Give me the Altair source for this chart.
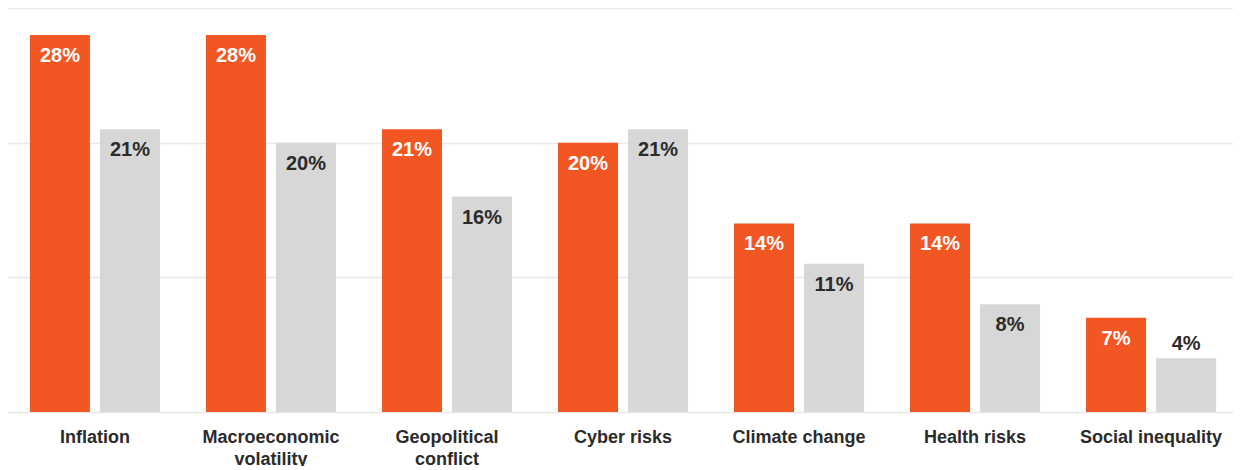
import altair as alt
import pandas as pd

categories = ["Inflation", "Macroeconomic volatility", "Geopolitical conflict",
              "Cyber risks", "Climate change", "Health risks", "Social inequality"]
series_names = ["Current", "Previous"]
current_values = [28, 28, 21, 20, 14, 14, 7]
previous_values = [21, 20, 16, 21, 11, 8, 4]

rows = []
for c, a, b in zip(categories, current_values, previous_values):
    rows.append({"category": c, "series": series_names[0], "value": a})
    rows.append({"category": c, "series": series_names[1], "value": b})
df = pd.DataFrame(rows)

FONT = "Liberation Sans"
ORANGE = "#F15623"
GRAY = "#D6D7D6"
DARK = "#2b2b2b"

x = alt.X(
    "category:N", sort=categories,
    scale=alt.Scale(paddingInner=0.261, paddingOuter=0.13),
    axis=alt.Axis(title=None, labelAngle=0, labelFont=FONT, labelFontWeight="bold",
                  labelFontSize=18, labelColor=DARK, labelLineHeight=22,
                  labelPadding=16, ticks=False, domain=False, labelLimit=300,
                  labelExpr="length(datum.label) > 18 ? split(datum.label, ' ') : datum.label"),
)
xo = alt.XOffset("series:N", sort=series_names,
                 scale=alt.Scale(paddingInner=0.143, paddingOuter=0))
y = alt.Y("value:Q", scale=alt.Scale(domain=[0, 30], nice=False),
          axis=alt.Axis(title=None, labels=False, ticks=False, domain=False,
                        values=[0, 10, 20, 30], grid=True, gridColor="#E8E8E8",
                        gridWidth=1.6))

base = alt.Chart(df).transform_calculate(label="datum.value + '%'")

bars = base.mark_bar().encode(
    x=x, xOffset=xo, y=y,
    color=alt.Color("series:N", sort=series_names,
                    scale=alt.Scale(domain=series_names, range=[ORANGE, GRAY]),
                    legend=None),
)

txt_color = alt.condition(f"datum.series == '{series_names[0]}'",
                          alt.value("#ffffff"), alt.value(DARK))

inside = base.transform_filter("datum.value >= 5").mark_text(
    baseline="alphabetic", dy=27, font=FONT, fontSize=20, fontWeight="bold"
).encode(x=x, xOffset=xo, y=alt.Y("value:Q"), text="label:N", color=txt_color)

above = base.transform_filter("datum.value < 5").mark_text(
    baseline="alphabetic", dy=-8, font=FONT, fontSize=20, fontWeight="bold"
).encode(x=x, xOffset=xo, y=alt.Y("value:Q"), text="label:N", color=txt_color)

chart = (bars + inside + above).properties(
    width=1232, height=404,
    padding={"left": -1, "top": 0, "right": -6, "bottom": -2},
).configure_view(stroke=None)

chart.save("out.html", embed_options={"renderer": "svg", "actions": False})
